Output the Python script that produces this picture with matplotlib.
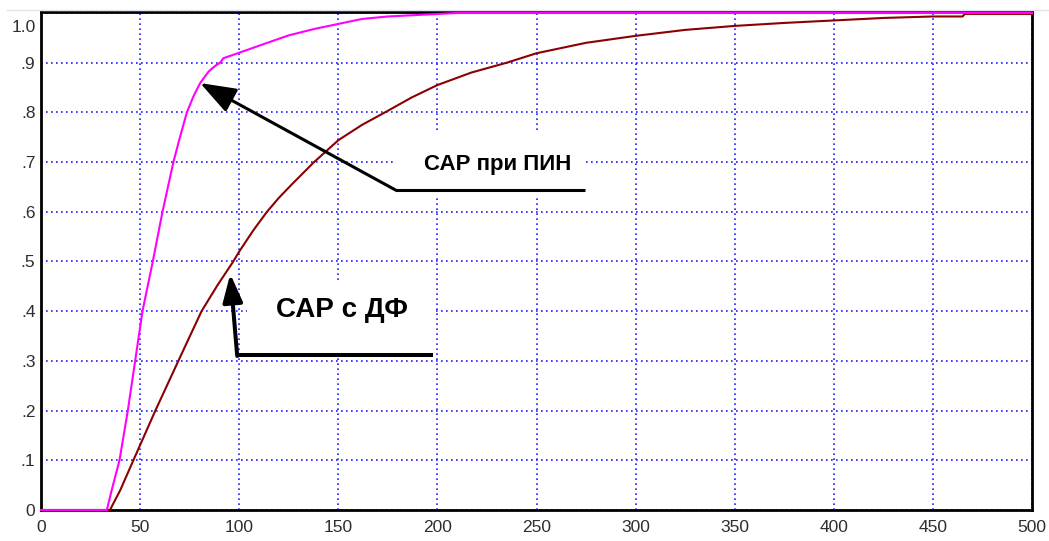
import matplotlib
matplotlib.use("Agg")
import matplotlib.pyplot as plt
from matplotlib.lines import Line2D
from matplotlib.patches import Rectangle
from matplotlib.transforms import ScaledTranslation

# --- data ---
# САР при ПИН (magenta)
t_pin = [0, 33.2, 36, 39.6, 43.8, 47.5, 51.2, 56.4, 61.3, 66.8, 69.7, 73.6, 77,
         80.3, 84.5, 88, 90.4, 92, 100, 112, 125, 138, 150, 162, 175, 190, 210, 500]
y_pin = [0, 0, 0.045, 0.1, 0.2, 0.3, 0.4, 0.5, 0.6, 0.7, 0.744, 0.8, 0.833,
         0.859, 0.882, 0.894, 0.9, 0.909, 0.92, 0.937, 0.955, 0.968, 0.978,
         0.988, 0.993, 0.996, 1.0, 1.0]

# САР с ДФ (brown)
t_df = [0, 34.8, 40, 46.6, 57.7, 69.3, 81, 89, 97, 100, 107, 114, 120, 127,
        137.5, 150, 162, 174, 187, 200, 217, 235, 250, 275, 300, 325, 350, 375,
        400, 425, 450, 465, 466, 500]
y_df = [0, 0, 0.04, 0.1, 0.2, 0.3, 0.4, 0.452, 0.5, 0.52, 0.562, 0.6, 0.628,
        0.657, 0.699, 0.744, 0.775, 0.801, 0.83, 0.855, 0.88, 0.9, 0.919, 0.94,
        0.954, 0.966, 0.974, 0.98, 0.985, 0.99, 0.993, 0.993, 0.998, 0.998]

x_ticks = [0, 50, 100, 150, 200, 250, 300, 350, 400, 450, 500]
y_ticks = [0, 0.1, 0.2, 0.3, 0.4, 0.5, 0.6, 0.7, 0.8, 0.9, 1.0]
y_ticklabels = ["0", ".1", ".2", ".3", ".4", ".5", ".6", ".7", ".8", ".9", "1.0"]

plt.rcParams['font.family'] = ['Liberation Sans', 'DejaVu Sans']

fig = plt.figure(figsize=(10.49, 5.41), dpi=100)
ax = fig.add_axes([41 / 1049, 31 / 541, 991 / 1049, 498 / 541])

# faint line above the plot frame
fig.add_artist(Line2D([7 / 1049, 1], [1 - 9.5 / 541] * 2, color='#dde4ec', lw=1))

ax.plot(t_df, y_df, color='#8b0000', lw=1.5, zorder=3, clip_on=False)
ax.plot(t_pin, y_pin, color='#ff00ff', lw=1.5, zorder=3, clip_on=False)

ax.set_xlim(0, 500)
ax.set_ylim(0, 1.002)
ax.set_xticks(x_ticks)
ax.set_yticks(y_ticks)
ax.set_yticklabels(y_ticklabels)
ax.tick_params(length=0, labelsize=12.5, labelcolor='#2e2e2e')
ax.tick_params(axis='x', pad=7)
ax.tick_params(axis='y', pad=4)

# the 1.0 label sits lower than its tick in the original
lbl = ax.get_yticklabels()[-1]
lbl.set_transform(lbl.get_transform() + ScaledTranslation(0, -13 / 100, fig.dpi_scale_trans))

ax.set_axisbelow(True)
ax.grid(True, color='#1f1fff', linestyle=(0, (1, 2)), lw=1.2)
for s in ax.spines.values():
    s.set_linewidth(2)
    s.set_color('black')

# --- annotation 1: САР при ПИН ---
ax.add_patch(Rectangle((179.3, 0.634), 94.4, 0.127, facecolor='white',
                       edgecolor='none', zorder=1))
ax.text(230.3, 0.696, 'САР при ПИН', fontsize=16, fontweight='bold',
        ha='center', va='center', zorder=5)
ax.plot([274.7, 178.8], [0.644, 0.644], color='black', lw=2.2, zorder=4,
        solid_capstyle='butt')
ax.annotate('', xy=(80.3, 0.859), xytext=(178.8, 0.644),
            arrowprops=dict(arrowstyle='-|>,head_length=1.1,head_width=0.4',
                            mutation_scale=20, lw=2.2, color='black',
                            shrinkA=0, shrinkB=0), zorder=4)

# --- annotation 2: САР с ДФ ---
ax.add_patch(Rectangle((104, 0.322), 95.5, 0.137, facecolor='white',
                       edgecolor='none', zorder=1))
ax.text(152, 0.402, 'САР с ДФ', fontsize=20, fontweight='bold',
        ha='center', va='center', zorder=5)
ax.plot([198, 99], [0.312, 0.312], color='black', lw=2.9, zorder=4,
        solid_capstyle='butt')
ax.annotate('', xy=(95.5, 0.475), xytext=(99, 0.31),
            arrowprops=dict(arrowstyle='-|>,head_length=0.85,head_width=0.3',
                            mutation_scale=20, lw=2.9, color='black',
                            shrinkA=0, shrinkB=0), zorder=4)

fig.savefig('out.png', dpi=100)
